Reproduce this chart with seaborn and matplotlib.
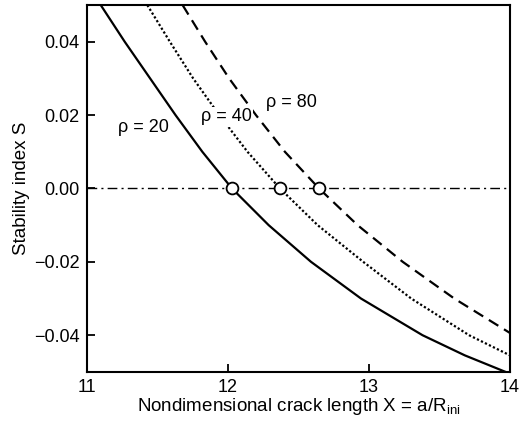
import numpy as np
import pandas as pd
import matplotlib
matplotlib.use("Agg")
import matplotlib.pyplot as plt
import seaborn as sns

# values
x_rho20 = [11.10, 11.27, 11.45, 11.63, 11.82, 12.03, 12.29, 12.59, 12.944, 13.38, 13.68, 14.0]
s_rho20 = [0.050, 0.040, 0.030, 0.020, 0.010, 0.0, -0.010, -0.020, -0.030, -0.040, -0.0455, -0.0505]

x_rho40 = [11.43, 11.59, 11.755, 11.94, 12.14, 12.37, 12.637, 12.96, 13.30, 13.71, 14.0]
s_rho40 = [0.050, 0.040, 0.030, 0.020, 0.010, 0.0, -0.010, -0.020, -0.030, -0.040, -0.0455]

x_rho80 = [11.68, 11.84, 12.01, 12.20, 12.405, 12.647, 12.92, 13.24, 13.605, 14.0]
s_rho80 = [0.050, 0.040, 0.030, 0.020, 0.010, 0.0, -0.010, -0.020, -0.030, -0.0394]

crit_x = [12.03, 12.37, 12.647]
crit_s = [0.0, 0.0, 0.0]

labels = ["\u03c1 = 20", "\u03c1 = 40", "\u03c1 = 80"]
label_xy = [(11.40, 0.0165), (11.99, 0.0195), (12.45, 0.0235)]

sns.set_style("ticks", {"xtick.direction": "in", "ytick.direction": "in",
                        "xtick.color": "black", "ytick.color": "black",
                        "axes.edgecolor": "black", "text.color": "black",
                        "axes.labelcolor": "black"})
plt.rcParams["font.family"] = ["Liberation Sans", "DejaVu Sans"]
plt.rcParams["mathtext.fontset"] = "custom"
plt.rcParams["mathtext.rm"] = "Liberation Sans"
plt.rcParams["axes.axisbelow"] = False
plt.rcParams["xtick.major.size"] = 6
plt.rcParams["ytick.major.size"] = 6
plt.rcParams["xtick.major.width"] = 1.3
plt.rcParams["ytick.major.width"] = 1.3

fig = plt.figure(figsize=(5.22, 4.25), dpi=100)
ax = fig.add_axes([0.166, 0.125, 0.811, 0.863])

styles = [None, (0, (1, 1)), (0, (5, 3))]
for xs, ss, dash in zip([x_rho20, x_rho40, x_rho80], [s_rho20, s_rho40, s_rho80], styles):
    df = pd.DataFrame({"X": xs, "S": ss})
    sns.lineplot(data=df, x="X", y="S", ax=ax, color="black", lw=1.6, sort=False)
    if dash is not None:
        ax.lines[-1].set_linestyle(dash)

ax.axhline(0, color="black", lw=1.0, ls=(0, (7, 3, 1.5, 3)), zorder=1)

ax.plot(crit_x, crit_s, "o", ms=8.5, mfc="white", mec="black", mew=1.3, zorder=5)

for txt, (tx, ty) in zip(labels, label_xy):
    ax.text(tx, ty, txt, fontsize=13, ha="center", va="center",
            bbox=dict(facecolor="white", edgecolor="none", pad=1))

ax.set_xlim(11, 14)
ax.set_ylim(-0.05, 0.05)
ax.set_xticks([11, 12, 13, 14])
ax.set_yticks([-0.04, -0.02, 0.0, 0.02, 0.04])
ax.set_yticklabels(["\u22120.04", "\u22120.02", "0.00", "0.02", "0.04"])
ax.tick_params(axis="both", which="major", direction="in", length=6, width=1.3,
               color="black", labelsize=13, bottom=True, left=True, top=False, right=False, pad=5)
for sp in ax.spines.values():
    sp.set_linewidth(1.5)
    sp.set_color("black")
    sp.set_visible(True)

ax.set_xlabel(r"Nondimensional crack length X = a/R$_{\mathregular{ini}}$", fontsize=13.5, labelpad=0)
ax.set_ylabel("Stability index S", fontsize=13.5, labelpad=3)

fig.savefig("out.png", dpi=100)
